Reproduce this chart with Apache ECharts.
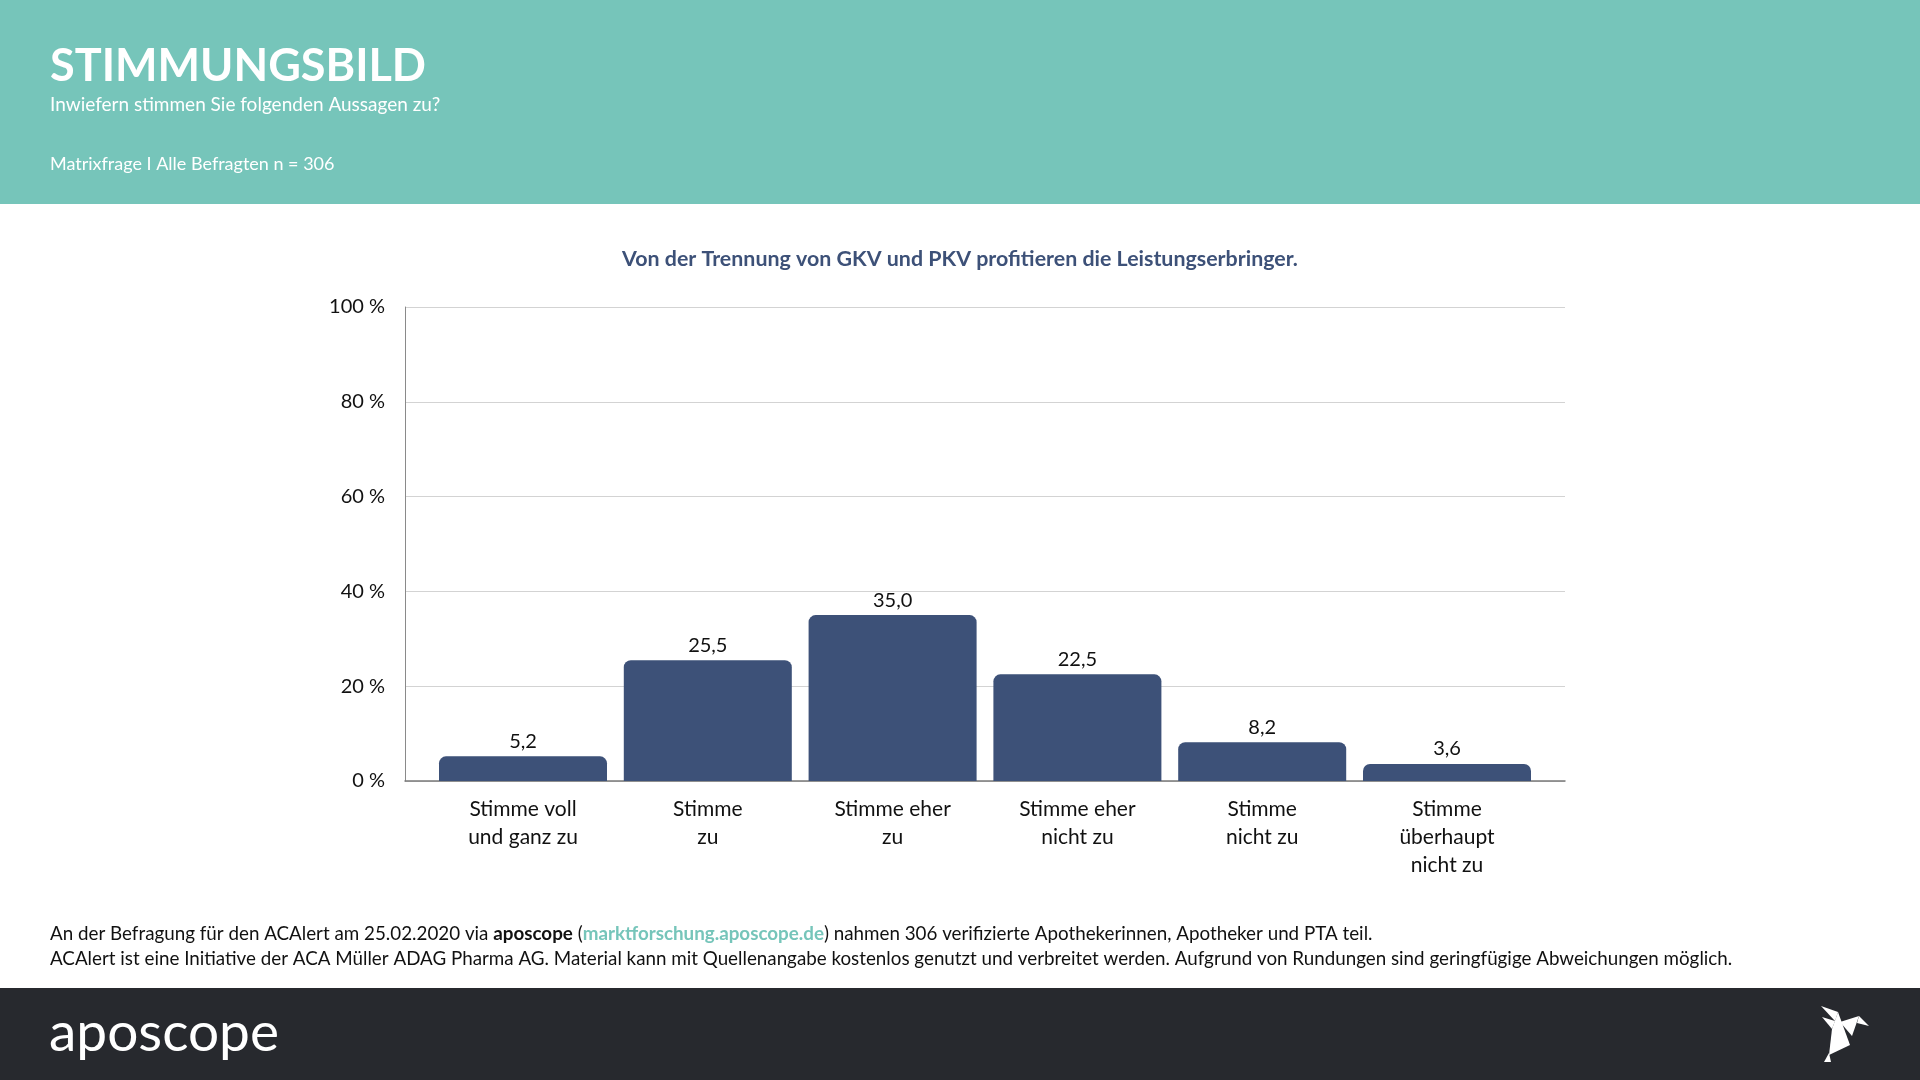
<!DOCTYPE html>
<html><head><meta charset="utf-8">
<script src="https://cdn.jsdelivr.net/npm/echarts@6/dist/echarts.min.js"></script>
<style>html,body{margin:0;padding:0;background:#fff}#c{width:1920px;height:1080px}</style>
</head><body><div id="c"></div>
<script>
const categories = ['Stimme voll\nund ganz zu', 'Stimme\nzu', 'Stimme eher\nzu', 'Stimme eher\nnicht zu', 'Stimme\nnicht zu', 'Stimme\nüberhaupt\nnicht zu'];
const values = [5.2, 25.5, 35.0, 22.5, 8.2, 3.6];
const yTicks = [0, 20, 40, 60, 80, 100];

const FONT = "'Source Sans Pro', Lato, 'Noto Sans', sans-serif";
const TEAL = '#76c5ba';
const NAVY = '#3d5178';
const DARK = '#27292e';

const chart = echarts.init(document.getElementById('c'));
chart.setOption({
  backgroundColor: '#ffffff',
  textStyle: { fontFamily: FONT },
  grid: [
    { left: 405, right: 355, top: 307, bottom: 299 },
    { left: 430.6, right: 380.6, top: 307, bottom: 299 }
  ],
  xAxis: [
    { type: 'value', gridIndex: 0, min: 0, max: 1, axisLine: { show: true, lineStyle: { color: '#7a7a7a', width: 1.5 } }, axisTick: { show: false }, axisLabel: { show: false }, splitLine: { show: false } },
    { type: 'category', gridIndex: 1, data: categories, axisLine: { show: false }, axisTick: { show: false },
      axisLabel: { interval: 0, margin: 14, fontSize: 21, lineHeight: 28, color: '#111', fontFamily: FONT, verticalAlign: 'top' } }
  ],
  yAxis: [
    { type: 'value', gridIndex: 0, min: yTicks[0], max: yTicks[yTicks.length - 1], interval: 20,
      axisLine: { show: true, lineStyle: { color: '#8a8a8a', width: 1 } }, axisTick: { show: false },
      axisLabel: { formatter: '{value} %', fontSize: 20, color: '#111', margin: 20, fontFamily: FONT },
      splitLine: { lineStyle: { color: '#d3d3d3', width: 1 } } },
    { type: 'value', gridIndex: 1, min: 0, max: 100, show: false }
  ],
  series: [{
    type: 'bar', xAxisIndex: 1, yAxisIndex: 1, data: values, barWidth: 168,
    itemStyle: { color: NAVY, borderRadius: [7, 7, 0, 0] },
    label: { show: true, position: 'top', distance: 5, fontSize: 20, color: '#111', fontFamily: FONT,
      formatter: p => p.value.toFixed(1).replace('.', ',') }
  }],
  graphic: [
    { type: 'rect', left: 0, top: 0, shape: { width: 1920, height: 204 }, style: { fill: TEAL }, z: -1 },
    { type: 'text', left: 50, top: 44, style: { text: 'STIMMUNGSBILD', fill: '#fff', font: 'bold 45px ' + FONT } },
    { type: 'text', left: 50, top: 95, style: { text: 'Inwiefern stimmen Sie folgenden Aussagen zu?', fill: '#fff', font: '19px ' + FONT } },
    { type: 'text', left: 50, top: 155, style: { text: 'Matrixfrage I Alle Befragten n = 306', fill: '#fff', font: '18px ' + FONT } },
    { type: 'text', left: 'center', top: 249, style: { text: 'Von der Trennung von GKV und PKV profitieren die Leistungserbringer.', fill: NAVY, font: 'bold 21.4px ' + FONT, align: 'center' } },
    { type: 'text', left: 50, top: 921, style: {
        text: 'An der Befragung für den ACAlert am 25.02.2020 via {b|aposcope} ({t|marktforschung.aposcope.de}) nahmen 306 verifizierte Apothekerinnen, Apotheker und PTA teil.\nACAlert ist eine Initiative der ACA Müller ADAG Pharma AG. Material kann mit Quellenangabe kostenlos genutzt und verbreitet werden. Aufgrund von Rundungen sind geringfügige Abweichungen möglich.',
        fill: '#111', font: '18.8px ' + FONT, lineHeight: 25,
        rich: { b: { fontWeight: 'bold', fontSize: 18.8, fill: '#111', fontFamily: FONT }, t: { fontWeight: 'bold', fontSize: 18.8, fill: TEAL, fontFamily: FONT } } } },
    { type: 'rect', left: 0, top: 988, shape: { width: 1920, height: 92 }, style: { fill: DARK }, z: -1 },
    { type: 'text', left: 49, top: 1006, style: { text: 'aposcope', fill: '#fff', font: '55px ' + FONT } },
    { type: 'group', left: 1821, top: 1006, children: [
        { type: 'polygon', shape: { points: [[0, 0], [17, 6], [14, 15]] }, style: { fill: '#fff' } },
        { type: 'polygon', shape: { points: [[1, 11], [14, 15], [11, 23]] }, style: { fill: '#fff' } },
        { type: 'polygon', shape: { points: [[17, 6], [29, 39], [8, 49], [11, 23]] }, style: { fill: '#fff' } },
        { type: 'polygon', shape: { points: [[19, 16], [38, 10], [31, 30]] }, style: { fill: '#fff' } },
        { type: 'polygon', shape: { points: [[38, 10], [48, 20], [36, 17]] }, style: { fill: '#fff' } },
        { type: 'polygon', shape: { points: [[8, 47], [3, 56], [10, 56]] }, style: { fill: '#fff' } }
    ] }
  ]
});
</script></body></html>
